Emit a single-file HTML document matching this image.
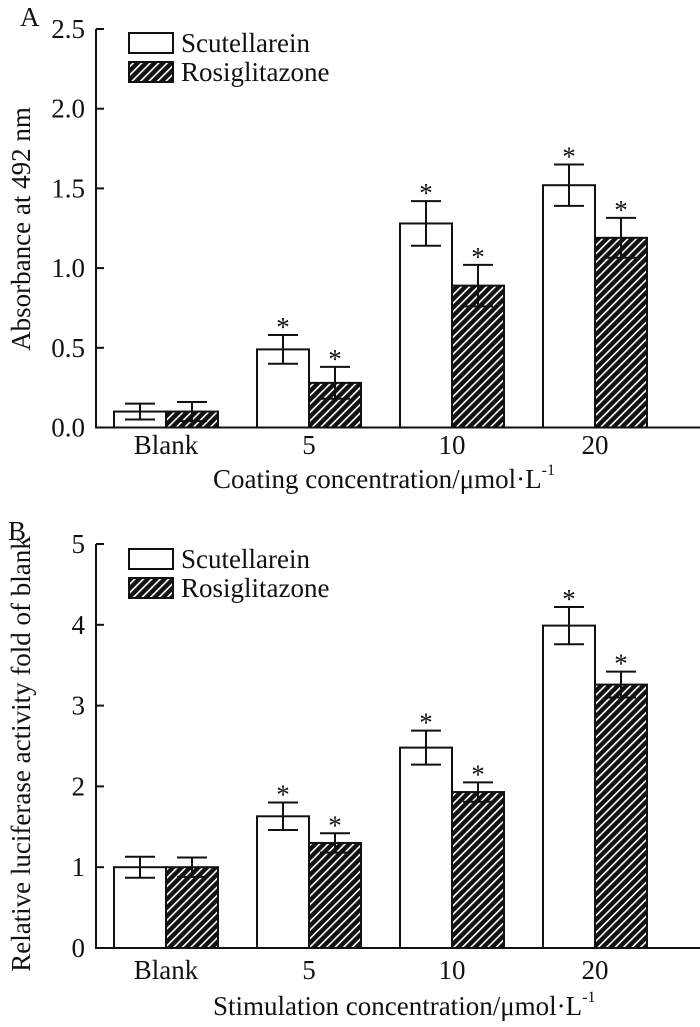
<!DOCTYPE html>
<html><head><meta charset="utf-8"><style>
body{margin:0;background:#fff}
svg text{font-family:"Liberation Serif",serif;fill:#111}
</style></head><body>
<svg id="chart" width="700" height="1022" viewBox="0 0 700 1022" xmlns="http://www.w3.org/2000/svg">
<defs>
<pattern id="hatch" patternUnits="userSpaceOnUse" width="6" height="6" patternTransform="rotate(45)">
<rect width="6" height="6" fill="#111"/>
<rect x="0" y="0" width="1.6" height="6" fill="#fff"/>
</pattern>
</defs>
</svg>
<script>
const categories = ["Blank","5","10","20"];
const seriesNames = ["Scutellarein","Rosiglitazone"];
const aScut = [0.10,0.49,1.28,1.52];
const aScutErr = [0.05,0.09,0.14,0.13];
const aRosi = [0.10,0.28,0.89,1.19];
const aRosiErr = [0.06,0.10,0.13,0.125];
const aStarScut = [false,true,true,true];
const aStarRosi = [false,true,true,true];
const aTicks = ["0.0","0.5","1.0","1.5","2.0","2.5"];
const bScut = [1.0,1.63,2.48,3.99];
const bScutErr = [0.13,0.17,0.21,0.23];
const bRosi = [1.0,1.30,1.93,3.26];
const bRosiErr = [0.12,0.12,0.12,0.16];
const bStarScut = [false,true,true,true];
const bStarRosi = [false,true,true,true];
const bTicks = ["0","1","2","3","4","5"];

const svg = document.getElementById('chart');
const NS = "http://www.w3.org/2000/svg";
function mk(tag, attrs, parent){
  const e = document.createElementNS(NS, tag);
  for (const k in attrs) e.setAttribute(k, attrs[k]);
  (parent||svg).appendChild(e); return e;
}
function panel(cfg){
  const g = mk('g',{});
  
  
  const y = v => cfg.y0 - v / cfg.max * (cfg.y0 - cfg.yTop);
  const xs = i => cfg.x0 + i * cfg.step;
  const ax = mk('path',{d:`M96 ${cfg.yTop} V${cfg.y0} H700`,stroke:'#111','stroke-width':2,fill:'none'},g);
  
  
  cfg.ticks.forEach((t)=>{
    const v = parseFloat(t);
    const yy = y(v);
    mk('line',{x1:96,x2:104,y1:yy,y2:yy,stroke:'#111','stroke-width':2},g);
    const tx = mk('text',{x:85,y:yy+9,'font-size':27,'text-anchor':'end'},g);
    tx.textContent = t;
    
    
  });
  categories.forEach((c,i)=>{
    const cx = xs(i);
    const tx = mk('text',{x:cx,y:cfg.tickY,'font-size':27,'text-anchor':'middle'},g);
    tx.textContent = c;
    
    
    const sets = [[cfg.s, cfg.se, cfg.ss, '#fff', -52, 'bar-scutellarein'],[cfg.r, cfg.re, cfg.rs, 'url(#hatch)', 0, 'bar-rosiglitazone']];
    sets.forEach(([vals, errs, stars, fill, off, nm])=>{
      const v = vals[i], top = y(v);
      const bx = cx + off;
      const r = mk('rect',{x:bx,y:top,width:52,height:cfg.y0-top,fill:fill,stroke:'#111','stroke-width':2},g);
      
      
      const mid = bx + 26, et = y(v + errs[i]), eb = y(v - errs[i]);
      const e = mk('path',{d:`M${mid-15} ${et} H${mid+15} M${mid} ${et} V${eb} M${mid-15} ${eb} H${mid+15}`,stroke:'#111','stroke-width':2,fill:'none'},g);
      
      
      if (stars[i]){
        const st = mk('text',{x:mid,y:et+1,'font-size':27,'text-anchor':'middle'},g);
        st.textContent = '*';
        
        
      }
    });
  });
  seriesNames.forEach((n,i)=>{
    const ly = cfg.legY + i*29;
    const r = mk('rect',{x:129,y:ly,width:44,height:20,fill:i?'url(#hatch)':'#fff',stroke:'#111','stroke-width':2},g);
    
    
    const t = mk('text',{x:181,y:ly+19,'font-size':27},g);
    t.textContent = n;
    
    
  });
  const xt = mk('text',{x:213,y:cfg.titleY,'font-size':27},g);
  xt.innerHTML = cfg.xTitle + '<tspan font-size="16" dy="-13">-1</tspan>';
  
  
  const yt = mk('text',{x:0,y:0,'font-size':27,'text-anchor':'middle',transform:`translate(30 ${cfg.yTitleY}) rotate(-90)`},g);
  yt.textContent = cfg.yTitle;
  
  
  const pl = mk('text',{x:cfg.labX,y:cfg.labY,'font-size':27},g);
  pl.textContent = cfg.label;
  
  
}
panel({name:'panel-a',y0:427.5,yTop:29,max:2.5,x0:166,step:143,ticks:aTicks,s:aScut,se:aScutErr,ss:aStarScut,r:aRosi,re:aRosiErr,rs:aStarRosi,legY:33,tickY:454,titleY:488,xTitle:'Coating concentration/μmol·L',yTitle:'Absorbance at 492 nm',yTitleY:229,label:'A',labX:20,labY:26});
panel({name:'panel-b',y0:948,yTop:544,max:5,x0:166,step:143,ticks:bTicks,s:bScut,se:bScutErr,ss:bStarScut,r:bRosi,re:bRosiErr,rs:bStarRosi,legY:549,tickY:979,titleY:1015,xTitle:'Stimulation concentration/μmol·L',yTitle:'Relative luciferase activity fold of blank',yTitleY:754,label:'B',labX:8,labY:540});
</script>
</body></html>
